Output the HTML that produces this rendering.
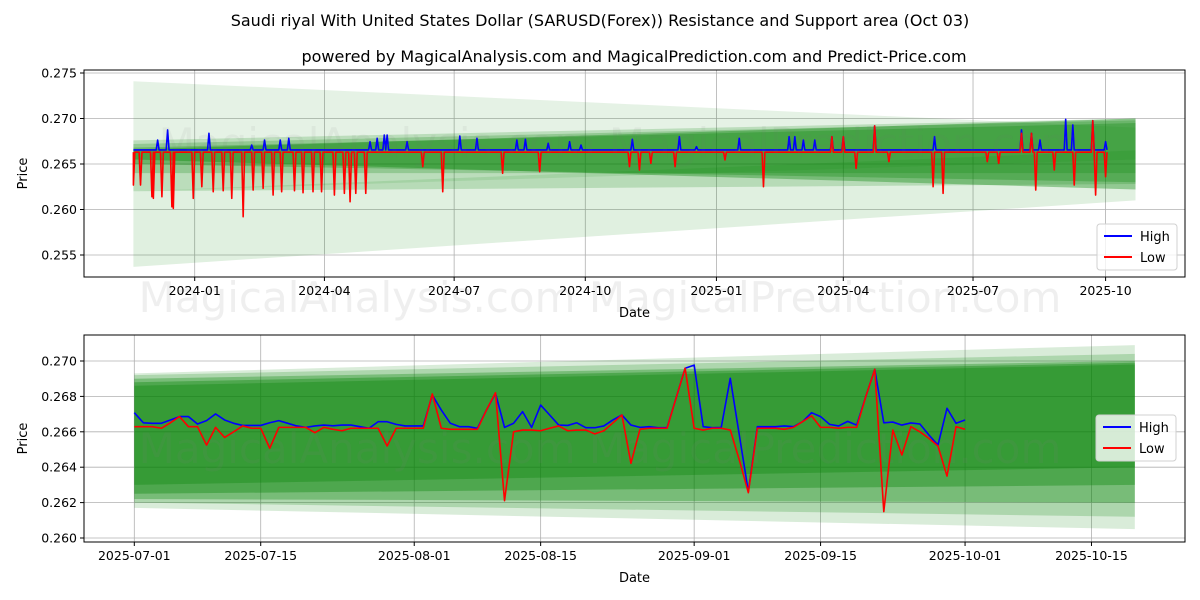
<!DOCTYPE html>
<html><head><meta charset="utf-8">
<style>
body{margin:0;background:#fff;}
svg{display:block;font-family:"DejaVu Sans","Liberation Sans",sans-serif;}
</style></head>
<body>
<svg id="chart" width="1200" height="600" viewBox="0 0 1200 600">
<text x="600" y="26" text-anchor="middle" font-size="16">Saudi riyal With United States Dollar (SARUSD(Forex)) Resistance and Support area (Oct 03)</text>
<text x="634" y="62" text-anchor="middle" font-size="16">powered by MagicalAnalysis.com and MagicalPrediction.com and Predict-Price.com</text>
<g id="top"></g>
<g id="bot"></g>
</svg>
<script>
// ---------- TOP PANEL DATA (days since 2024-01-01) ----------
const topStartDay = -43;
const topEndDay = 640;
const topBandEndDay = 660;
const topBaseHigh = 0.26655;
const topBaseLow = 0.2663;
const topLowDays = [-43,-38,-30,-29,-23,-16,-15,-1,5,13,20,26,34,41,48,55,61,70,76,83,89,98,105,109,113,120,160,174,216,242,305,312,320,337,372,399,447,455,464,477,487,518,525,556,564,580,587,590,603,617,630,632,639];
const topLowVals = [0.26269,0.26269,0.26141,0.26123,0.26141,0.2603,0.26012,0.26123,0.26251,0.26196,0.26207,0.26123,0.25921,0.26214,0.26232,0.26159,0.26196,0.26207,0.26185,0.26196,0.26196,0.26159,0.26178,0.26086,0.26178,0.26178,0.26471,0.26196,0.26397,0.26416,0.26471,0.26434,0.26507,0.26471,0.26544,0.26251,0.268,0.268,0.26452,0.26918,0.26526,0.26251,0.26178,0.26526,0.26507,0.26837,0.26837,0.26214,0.26434,0.26269,0.26976,0.26159,0.26361];
const topHighDays = [-26,-19,10,40,49,60,66,123,128,133,135,149,186,198,226,232,248,263,271,307,340,352,382,417,421,427,435,447,455,477,519,580,587,593,611,616,630,639];
const topHighVals = [0.26763,0.26874,0.26837,0.26708,0.26763,0.26763,0.26782,0.26745,0.26782,0.26818,0.26818,0.26745,0.26807,0.26782,0.26763,0.26771,0.26727,0.26745,0.26708,0.26771,0.268,0.2669,0.26782,0.268,0.268,0.26763,0.26763,0.268,0.268,0.26918,0.268,0.26874,0.26837,0.26763,0.26991,0.26929,0.26976,0.26745];
const topXTickDays = [0,91,182,274,366,455,546,639];
const topXTickLabels = ["2024-01","2024-04","2024-07","2024-10","2025-01","2025-04","2025-07","2025-10"];
const topYTicks = [0.255,0.260,0.265,0.270,0.275];
const topBandLT = [0.2741,0.2620,0.2676,0.2672,0.2668,0.2666];
const topBandLB = [0.2620,0.2537,0.2620,0.2640,0.2650,0.2655];
const topBandRT = [0.2690,0.2665,0.2700,0.2698,0.2695,0.2700];
const topBandRB = [0.2655,0.2610,0.2628,0.2640,0.2630,0.2622];
const topBandAlpha = [0.1,0.12,0.18,0.22,0.27,0.35];

// ---------- BOTTOM PANEL DATA (daily from 2025-07-01) ----------
const botHigh = [0.26708,0.26651,0.26648,0.26648,0.26667,0.26686,0.26686,0.26644,0.26663,0.26701,0.26667,0.26648,0.26636,0.26636,0.26636,0.26651,0.26663,0.26648,0.26633,0.26625,0.26633,0.26638,0.26634,0.26638,0.26638,0.26629,0.2662,0.26657,0.26657,0.26642,0.26633,0.26633,0.26633,0.26808,0.26723,0.26648,0.26629,0.26629,0.2662,0.26723,0.26817,0.26625,0.26648,0.26714,0.26625,0.26751,0.26695,0.26638,0.26636,0.26651,0.26623,0.26623,0.26633,0.26667,0.26695,0.26638,0.26625,0.26629,0.26623,0.26623,0.26791,0.26959,0.26977,0.26629,0.26623,0.26625,0.26902,0.26582,0.26262,0.26629,0.26629,0.26629,0.26633,0.26629,0.26657,0.26708,0.26686,0.26642,0.26633,0.26659,0.26638,0.26798,0.26953,0.26651,0.26655,0.26638,0.2665,0.26644,0.26582,0.26525,0.26733,0.26648,0.26667];
const botLow = [0.26629,0.26629,0.26629,0.2662,0.26651,0.26686,0.26629,0.26629,0.26525,0.26625,0.26568,0.266,0.26633,0.2662,0.2662,0.26507,0.26625,0.26625,0.26625,0.26625,0.26595,0.26625,0.26614,0.26606,0.2662,0.2662,0.2662,0.2662,0.2652,0.2662,0.2662,0.2662,0.2662,0.26814,0.2662,0.26614,0.26614,0.26614,0.26614,0.26723,0.26821,0.26211,0.266,0.2661,0.2661,0.26606,0.2662,0.26633,0.26606,0.2661,0.2661,0.26588,0.26606,0.2665,0.26695,0.26422,0.26614,0.2662,0.2662,0.2662,0.26791,0.26959,0.2662,0.2661,0.2662,0.2662,0.2661,0.26441,0.26256,0.2662,0.2662,0.2662,0.26614,0.26625,0.26657,0.2669,0.26625,0.26625,0.2662,0.26625,0.26625,0.26798,0.26953,0.26149,0.2661,0.26469,0.26629,0.266,0.26563,0.2652,0.2635,0.26629,0.26614];
const botBandEndDay = 110.8;
const botXTickDays = [0,14,31,45,62,76,92,106];
const botXTickLabels = ["2025-07-01","2025-07-15","2025-08-01","2025-08-15","2025-09-01","2025-09-15","2025-10-01","2025-10-15"];
const botYTicks = [0.260,0.262,0.264,0.266,0.268,0.270];
const botBandLT = [0.2693,0.2692,0.2690,0.2688,0.2686];
const botBandLB = [0.2617,0.2620,0.2622,0.2625,0.2630];
const botBandRT = [0.2709,0.2704,0.2700,0.2699,0.2698];
const botBandRB = [0.2605,0.2612,0.2620,0.2630,0.2640];
const botBandAlpha = [0.15,0.2,0.3,0.35,0.3];

const NS = "http://www.w3.org/2000/svg";
function mk(parent, tag, attrs, text){
  const e = document.createElementNS(NS, tag);
  for (const k in attrs) e.setAttribute(k, attrs[k]);
  if (text !== undefined) e.textContent = text;
  parent.appendChild(e);
  return e;
}

function drawPanel(g, P){
  const {x0,x1,y0,y1,xs,ys} = P;
  const clipId = P.id + "-clip";
  const defs = mk(g,"defs",{});
  const cp = mk(defs,"clipPath",{id:clipId});
  mk(cp,"rect",{x:x0,y:y0,width:x1-x0,height:y1-y0});
  P.xTickDays.forEach((d,i)=>{
    const gl = mk(g,"line",{x1:xs(d),x2:xs(d),y1:y0,y2:y1,stroke:"#b0b0b0","stroke-width":0.8});
    
    
  });
  P.yTicks.forEach(v=>{
    const gl = mk(g,"line",{x1:x0,x2:x1,y1:ys(v),y2:ys(v),stroke:"#b0b0b0","stroke-width":0.8});
    
    
  });
  const bg = mk(g,"g",{"clip-path":"url(#"+clipId+")"});
  
  
  for (let i=0;i<P.bLT.length;i++){
    const a = xs(P.bandStart), b = xs(P.bandEnd);
    const pts = [a+","+ys(P.bLT[i]), b+","+ys(P.bRT[i]), b+","+ys(P.bRB[i]), a+","+ys(P.bLB[i])].join(" ");
    const poly = mk(bg,"polygon",{points:pts,fill:"rgb(0,128,0)","fill-opacity":P.bA[i]});
    
    
  }
  const wm = mk(g,"text",{x:600,y:P.wmY,"text-anchor":"middle","font-size":42,fill:"rgba(120,120,120,0.12)"}, "MagicalAnalysis.com   MagicalPrediction.com");
  
  
  const hp = mk(g,"polyline",{points:P.high.map(p=>xs(p[0])+","+ys(p[1])).join(" "),fill:"none",stroke:"#0000ff","stroke-width":1.6,"stroke-linejoin":"round","clip-path":"url(#"+clipId+")"});
  
  
  const lp = mk(g,"polyline",{points:P.low.map(p=>xs(p[0])+","+ys(p[1])).join(" "),fill:"none",stroke:"#ff0000","stroke-width":1.6,"stroke-linejoin":"round","clip-path":"url(#"+clipId+")"});
  
  
  const fr = mk(g,"rect",{x:x0,y:y0,width:x1-x0,height:y1-y0,fill:"none",stroke:"#000","stroke-width":1});
  
  
  P.xTickDays.forEach((d,i)=>{
    const t = mk(g,"line",{x1:xs(d),x2:xs(d),y1:y1,y2:y1+4,stroke:"#000"});
    
    
    const l = mk(g,"text",{x:xs(d),y:y1+18,"text-anchor":"middle","font-size":12.5}, P.xTickLabels[i]);
    
    
  });
  P.yTicks.forEach(v=>{
    const t = mk(g,"line",{x1:x0-4,x2:x0,y1:ys(v),y2:ys(v),stroke:"#000"});
    
    
    const l = mk(g,"text",{x:x0-7,y:ys(v)+4.5,"text-anchor":"end","font-size":12.5}, v.toFixed(3));
    
    
  });
  const xl = mk(g,"text",{x:(x0+x1)/2,y:y1+40,"text-anchor":"middle","font-size":13}, "Date");
  
  
  const yl = mk(g,"text",{x:0,y:0,"text-anchor":"middle","font-size":13,transform:"translate("+P.yTitleX+","+((y0+y1)/2)+") rotate(-90)"}, "Price");
  
  
  const lg = mk(g,"g",{});
  
  
  mk(lg,"rect",{x:P.lgX,y:P.lgY,width:80,height:46,rx:3,fill:"rgba(255,255,255,0.8)",stroke:"#d0d0d0"});
  const e1 = mk(lg,"g",{});
  
  
  mk(e1,"line",{x1:P.lgX+7,x2:P.lgX+35,y1:P.lgY+12,y2:P.lgY+12,stroke:"#0000ff","stroke-width":2});
  mk(e1,"text",{x:P.lgX+43,y:P.lgY+17,"font-size":13},"High");
  const e2 = mk(lg,"g",{});
  
  
  mk(e2,"line",{x1:P.lgX+7,x2:P.lgX+35,y1:P.lgY+33,y2:P.lgY+33,stroke:"#ff0000","stroke-width":2});
  mk(e2,"text",{x:P.lgX+43,y:P.lgY+38,"font-size":13},"Low");
}

function eventSeries(days, vals, base, start, end){
  const pts = [[start, base]];
  const idx = days.map((d,i)=>i).sort((a,b)=>days[a]-days[b]);
  let last = start;
  idx.forEach(i=>{
    const d = days[i];
    if (d-1 > last) pts.push([d-1, base]);
    pts.push([d, vals[i]]);
    pts.push([d+1, base]);
    last = d+1;
  });
  if (end > last) pts.push([end, base]);
  pts.sort((a,b)=>a[0]-b[0]);
  return pts;
}

(function(){
  const x0=84,x1=1185,y0=70,y1=277;
  const xs = d => 194.7 + d*1.4255;
  const ys = v => 73 + (0.275 - v)*9100;
  drawPanel(document.getElementById("top"), {
    id:"top",x0,x1,y0,y1,xs,ys,
    xTickDays:topXTickDays,xTickLabels:topXTickLabels,yTicks:topYTicks,
    bLT:topBandLT,bLB:topBandLB,bRT:topBandRT,bRB:topBandRB,bA:topBandAlpha,
    bandStart:topStartDay,bandEnd:topBandEndDay,
    high:eventSeries(topHighDays,topHighVals,topBaseHigh,topStartDay,topEndDay),
    low:eventSeries(topLowDays,topLowVals,topBaseLow,topStartDay,topEndDay),
    wmY:312,yTitleX:27,lgX:1097,lgY:224
  });
  const wm2 = mk(document.getElementById("top"),"text",{x:620,y:158,"text-anchor":"middle","font-size":42,fill:"rgba(120,120,120,0.07)"},"MagicalAnalysis.com   MagicalPrediction.com");
  
  
})();

(function(){
  const x0=84,x1=1185,y0=335,y1=542;
  const xs = d => 134.3 + d*9.03;
  const ys = v => 361 + (0.270 - v)*17700;
  drawPanel(document.getElementById("bot"), {
    id:"bot",x0,x1,y0,y1,xs,ys,
    xTickDays:botXTickDays,xTickLabels:botXTickLabels,yTicks:botYTicks,
    bLT:botBandLT,bLB:botBandLB,bRT:botBandRT,bRB:botBandRB,bA:botBandAlpha,
    bandStart:0,bandEnd:botBandEndDay,
    high:botHigh.map((v,i)=>[i,v]),
    low:botLow.map((v,i)=>[i,v]),
    wmY:463,yTitleX:27,lgX:1096,lgY:415
  });
})();
</script>
</body></html>
